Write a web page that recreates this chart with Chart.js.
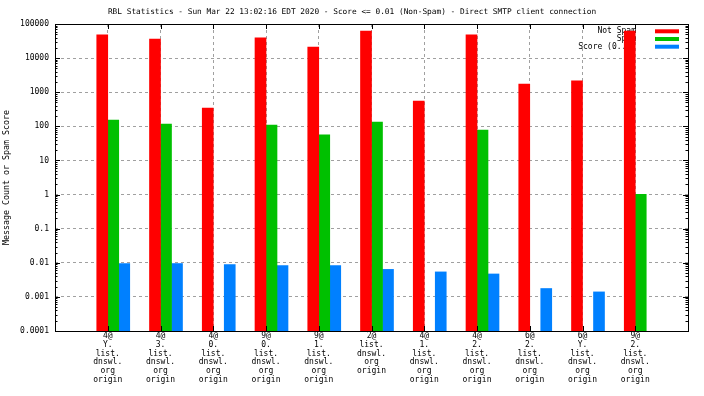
<!DOCTYPE html>
<html>
<head>
<meta charset="utf-8">
<script src="https://cdn.jsdelivr.net/npm/chart.js@4/dist/chart.umd.min.js"></script>
<style>
  body { margin: 0; background: #fff; }
  #chart { display: block; }
</style>
</head>
<body>
<canvas id="chart" width="704" height="396"></canvas>
<script>
// chart data
const titleText = 'RBL Statistics - Sun Mar 22 13:02:16 EDT 2020 - Score <= 0.01 (Non-Spam) - Direct SMTP client connection';
const categories = [
    ['4@', 'Y.', 'list.', 'dnswl.', 'org', 'origin'],
    ['4@', '3.', 'list.', 'dnswl.', 'org', 'origin'],
    ['4@', '0.', 'list.', 'dnswl.', 'org', 'origin'],
    ['9@', '0.', 'list.', 'dnswl.', 'org', 'origin'],
    ['9@', '1.', 'list.', 'dnswl.', 'org', 'origin'],
    ['2@', 'list.', 'dnswl.', 'org', 'origin'],
    ['4@', '1.', 'list.', 'dnswl.', 'org', 'origin'],
    ['4@', '2.', 'list.', 'dnswl.', 'org', 'origin'],
    ['6@', '2.', 'list.', 'dnswl.', 'org', 'origin'],
    ['6@', 'Y.', 'list.', 'dnswl.', 'org', 'origin'],
    ['9@', '2.', 'list.', 'dnswl.', 'org', 'origin']
];
const notSpam = [48000, 36000, 345, 39000, 21000, 62000, 552, 48000, 1740, 2140, 62000];
const spam = [153, 117, null, 109, 56, 134, null, 78, null, null, 1.02];
const score = [0.0095, 0.0095, 0.0089, 0.0083, 0.0083, 0.0064, 0.0054, 0.0047, 0.00176, 0.0014, null];
const yTicks = [0.0001, 0.001, 0.01, 0.1, 1, 10, 100, 1000, 10000, 100000];

const FONT = 'DejaVu Sans Mono';

// one empty category on each side, like the gnuplot x range
const pad = arr => [null, ...arr, null];
const labels = ['', ...categories, ''];

const decorations = {
    id: 'decorations',
    beforeDatasetsDraw(chart) {
        // legend sits under the bars
        const ctx = chart.ctx;
        const rows = chart.data.datasets.filter(d => d.label);
        ctx.save();
        ctx.font = '8px "' + FONT + '"';
        ctx.textAlign = 'right';
        ctx.textBaseline = 'middle';
        rows.forEach((d, i) => {
            const y = 31.3 + i * 7.7;
            ctx.fillStyle = '#000';
            ctx.fillText(d.label, 636, y);
            ctx.fillStyle = d.backgroundColor;
            ctx.fillRect(655, y - 2, 24, 4);
        });
        ctx.restore();
    },
    afterDatasetsDraw(chart) {
        const ctx = chart.ctx;
        const a = chart.chartArea;
        const x = chart.scales.x;
        const y = chart.scales.y;
        ctx.save();
        ctx.strokeStyle = '#000';
        ctx.lineWidth = 1;
        ctx.beginPath();
        // major y ticks, both sides
        yTicks.forEach(v => {
            const py = Math.round(y.getPixelForValue(v)) + 0.5;
            ctx.moveTo(a.left, py); ctx.lineTo(a.left + 5, py);
            ctx.moveTo(a.right, py); ctx.lineTo(a.right - 5, py);
        });
        // minor y ticks
        for (let k = -4; k < 5; k++) {
            for (let m = 2; m < 10; m++) {
                const py = Math.round(y.getPixelForValue(m * Math.pow(10, k))) + 0.5;
                ctx.moveTo(a.left, py); ctx.lineTo(a.left + 2.5, py);
                ctx.moveTo(a.right, py); ctx.lineTo(a.right - 2.5, py);
            }
        }
        // category ticks top and bottom
        for (let i = 1; i < labels.length - 1; i++) {
            const px = Math.round(x.getPixelForValue(i)) + 0.5;
            ctx.moveTo(px, a.top); ctx.lineTo(px, a.top + 5);
            ctx.moveTo(px, a.bottom); ctx.lineTo(px, a.bottom - 5);
        }
        ctx.stroke();
        ctx.strokeRect(Math.round(a.left) + 0.5, Math.round(a.top) + 0.5,
            Math.round(a.right - a.left), Math.round(a.bottom - a.top));
        ctx.restore();
    },
    afterDraw(chart) {
        const ctx = chart.ctx;
        ctx.save();
        ctx.font = '7.8px "' + FONT + '"';
        ctx.fillStyle = '#000';
        ctx.textAlign = 'center';
        ctx.textBaseline = 'middle';
        ctx.fillText(titleText, 352, 12);
        ctx.restore();
    }
};

new Chart(document.getElementById('chart'), {
    type: 'bar',
    data: {
        labels: labels,
        datasets: [
            // empty slot so the red bar ends on the tick
            { label: '', data: pad(categories.map(() => null)), backgroundColor: 'rgba(0,0,0,0)' },
            { label: 'Not Spam', data: pad(notSpam), backgroundColor: '#ff0000' },
            { label: 'Spam', data: pad(spam), backgroundColor: '#00c000' },
            { label: 'Score (0..1)', data: pad(score), backgroundColor: '#0080ff' }
        ]
    },
    options: {
        responsive: false,
        animation: false,
        layout: { padding: { left: 0, right: 16, top: 24, bottom: 0 } },
        datasets: { bar: { barThickness: 11, borderWidth: 0 } },
        plugins: {
            legend: { display: false },
            tooltip: { enabled: false }
        },
        scales: {
            x: {
                offset: false,
                grid: {
                    offset: false,
                    drawTicks: false,
                    color: c => (c.index === 0 || c.index === labels.length - 1) ? 'rgba(0,0,0,0)' : '#a0a0a0'
                },
                border: { display: false, dash: [3, 3] },
                ticks: {
                    autoSkip: false,
                    maxRotation: 0,
                    padding: 1,
                    color: '#000',
                    font: { family: FONT, size: 8, lineHeight: '8.67px' }
                },
                afterFit: s => { s.height = 65; }
            },
            y: {
                type: 'logarithmic',
                min: 0.0001,
                max: 100000,
                afterBuildTicks: s => { s.ticks = yTicks.map(v => ({ value: v })); },
                grid: { drawTicks: false, color: '#a0a0a0' },
                border: { display: false, dash: [3, 3] },
                ticks: {
                    padding: 6,
                    color: '#000',
                    font: { family: FONT, size: 8 },
                    callback: v => String(v)
                },
                title: {
                    display: true,
                    text: 'Message Count or Spam Score',
                    color: '#000',
                    font: { family: FONT, size: 8.3 },
                    padding: { top: 2, bottom: 0 }
                },
                afterFit: s => { s.width = 55; }
            }
        }
    },
    plugins: [decorations]
});
</script>
</body>
</html>
